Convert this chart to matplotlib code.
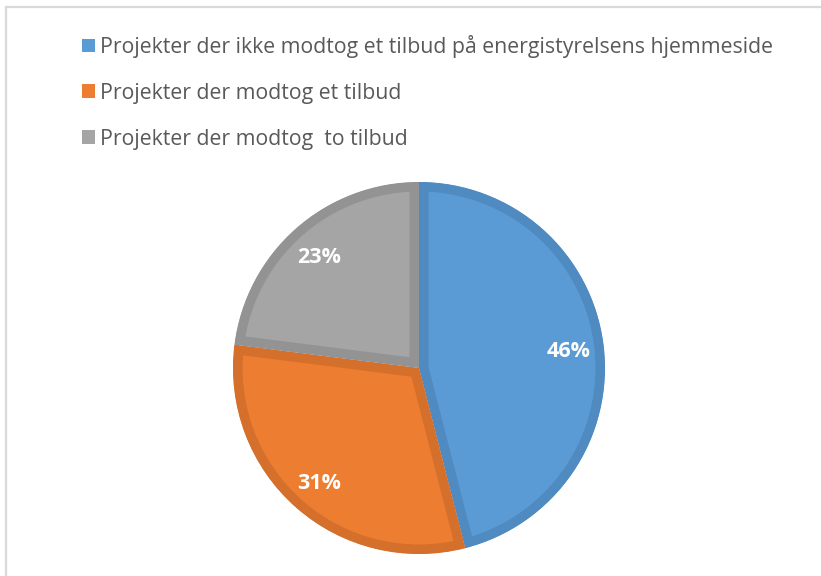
import matplotlib
matplotlib.use("Agg")
import matplotlib.pyplot as plt
from matplotlib.patches import Patch, Wedge
from matplotlib.lines import Line2D

categories = [
    "Projekter der ikke modtog et tilbud på energistyrelsens hjemmeside",
    "Projekter der modtog et tilbud",
    "Projekter der modtog  to tilbud",
]
values = [46, 31, 23]
fill_colors = ["#5b9bd5", "#ed7d31", "#a5a5a5"]
edge_colors = ["#4f8ac0", "#d46f2c", "#939393"]

W, H, DPI = 821, 576, 100
fig = plt.figure(figsize=(W / DPI, H / DPI), dpi=DPI)
fig.patch.set_facecolor("white")

# pie axes
cx, cy, r = 419, 368, 186
ax = fig.add_axes([(cx - r) / W, 1 - (cy + r) / H, 2 * r / W, 2 * r / H])
border_px = 9.5
wedges, texts, autotexts = ax.pie(
    values, colors=fill_colors, startangle=90, counterclock=False, radius=1,
    autopct=lambda p: f"{p:.0f}%", pctdistance=0.81,
    wedgeprops=dict(linewidth=2 * border_px * 72 / DPI, joinstyle="miter"),
    textprops=dict(color="white", fontsize=15.5, fontweight="bold", family="Open Sans"),
)
ax.set_xlim(-1, 1)
ax.set_ylim(-1, 1)
ax.set_aspect("equal")
ax.axis("off")
for w, ec in zip(wedges, edge_colors):
    w.set_edgecolor(ec)
    clip = Wedge(w.center, w.r, w.theta1, w.theta2, transform=ax.transData)
    w.set_clip_path(clip)
    w.set_clip_on(True)
for t in autotexts:
    t.set_verticalalignment("center_baseline")

handles = [Patch(facecolor=c, edgecolor="none") for c in fill_colors]
fig.legend(handles, categories, loc="upper left",
           bbox_to_anchor=(82 / W, 1 - 35 / H), frameon=False,
           prop=dict(family="Open Sans", size=15.3), labelcolor="#595959",
           handlelength=0.62, handleheight=0.62, handletextpad=0.22,
           labelspacing=1.17, borderpad=0, borderaxespad=0)

# chart frame
fig.add_artist(Line2D([6 / W, 1], [1 - 7 / H, 1 - 7 / H], color="#d9d9d9", lw=1.6,
                      transform=fig.transFigure))
fig.add_artist(Line2D([6 / W, 6 / W], [1 - 7 / H, 0], color="#d9d9d9", lw=1.6,
                      transform=fig.transFigure))

fig.savefig("out.png", dpi=DPI)
